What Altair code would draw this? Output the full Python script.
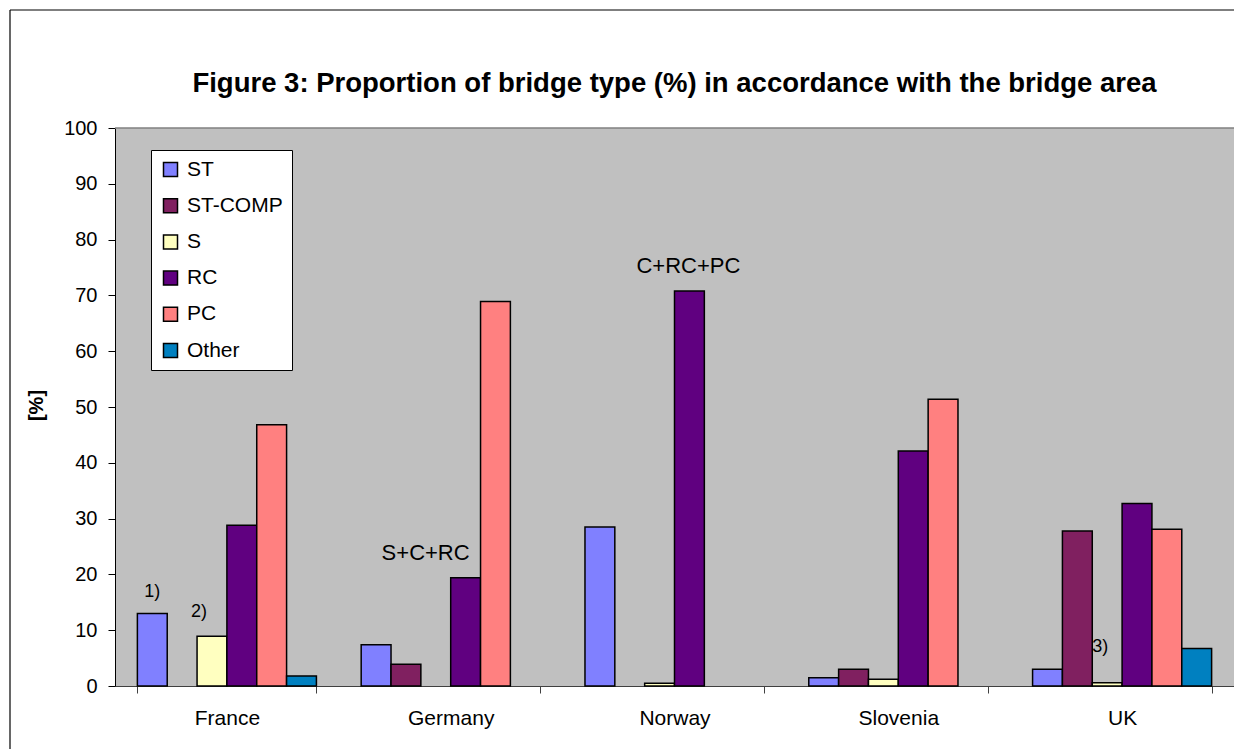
import altair as alt
import pandas as pd

countries = ["France", "Germany", "Norway", "Slovenia", "UK"]
types = ["ST", "ST-COMP", "S", "RC", "PC", "Other"]
colors = ["#8080FF", "#802060", "#FFFFC0", "#600080", "#FF8080", "#0080C0"]

ST = [13.0, 7.4, 28.5, 1.5, 3.0]
ST_COMP = [0.0, 3.9, 0.0, 3.0, 27.8]
S = [8.9, 0.0, 0.5, 1.2, 0.6]
RC = [28.8, 19.4, 70.8, 42.1, 32.7]
PC = [46.8, 68.9, 0.0, 51.4, 28.1]
OTHER = [1.8, 0.0, 0.0, 0.0, 6.7]

# annotations: text, country, anchor bar type, y position (%), horizontal shift (px)
ann_text = ["1)", "2)", "S+C+RC", "C+RC+PC", "3)"]
ann_country = ["France", "France", "Germany", "Norway", "UK"]
ann_type = ["ST", "S", "RC", "RC", "S"]
ann_y = [16.9, 13.3, 23.8, 75.3, 7.0]
ann_dx = [0, -13, -40, -1, -7]
ann_size = [18, 18, 22, 22, 18]

FONT = "Liberation Sans"

series = {"ST": ST, "ST-COMP": ST_COMP, "S": S, "RC": RC, "PC": PC, "Other": OTHER}
rows = []
for t in types:
    for c, v in zip(countries, series[t]):
        if v > 0:
            rows.append({"country": c, "type": t, "value": v})
df = pd.DataFrame(rows)

xscale = alt.Scale(domain=countries, paddingInner=0.2, paddingOuter=0.1)
xoff = alt.Scale(domain=types, paddingInner=0, paddingOuter=0)

bars = alt.Chart(df).mark_bar(stroke="black", strokeWidth=1.5).encode(
    x=alt.X("country:N", scale=xscale, sort=countries,
            axis=alt.Axis(title=None, labelAngle=0, tickBand="extent", tickSize=7,
                          labelPadding=14, labelFontSize=21, labelFont=FONT,
                          labelColor="black", domainColor="#404040", tickColor="#404040",
                          labelBaseline="top")),
    xOffset=alt.XOffset("type:N", scale=xoff, sort=types),
    y=alt.Y("value:Q", scale=alt.Scale(domain=[0, 100], nice=False),
            axis=alt.Axis(title="[%]", values=list(range(0, 101, 10)), grid=False,
                          tickSize=7, labelPadding=11, labelFontSize=20, labelFont=FONT,
                          labelColor="black", domainColor="black", tickColor="black",
                          titleFont=FONT, titleFontSize=20, titleFontWeight="bold",
                          titleColor="black", titleAngle=-90, titleX=-79, titleY=277,
                          titleAlign="center", titleBaseline="middle")),
    color=alt.Color("type:N", scale=alt.Scale(domain=types, range=colors), sort=types,
                    legend=alt.Legend(orient="none", legendX=36, legendY=22, title=None,
                                      fillColor="white", strokeColor="black", padding=9,
                                      symbolType="square", symbolSize=196,
                                      symbolStrokeColor="black", symbolStrokeWidth=1.5,
                                      symbolOpacity=1, labelFontSize=21, labelFont=FONT,
                                      labelColor="black", rowPadding=14.2, labelOffset=6)),
)

layers = [bars]
for t, c, bt, yv, dx, fs in zip(ann_text, ann_country, ann_type, ann_y, ann_dx, ann_size):
    adf = pd.DataFrame([{"country": c, "type": bt, "y": yv, "label": t}])
    layers.append(
        alt.Chart(adf).mark_text(font=FONT, fontSize=fs, color="black", dx=dx,
                                 baseline="middle", align="center").encode(
            x=alt.X("country:N", scale=xscale, sort=countries),
            xOffset=alt.XOffset("type:N", scale=xoff, sort=types),
            y=alt.Y("y:Q"),
            text="label:N",
        )
    )

one = pd.DataFrame({"a": [0]})
top_border = alt.Chart(one).mark_rule(color="#808080", strokeWidth=1.5).encode(
    x=alt.value(0), x2=alt.value(1119), y=alt.value(0))
frame_top = alt.Chart(one).mark_rule(color="black", strokeWidth=1.2).encode(
    x=alt.value(-105), x2=alt.value(1119), y=alt.value(-118))
frame_left = alt.Chart(one).mark_rule(color="black", strokeWidth=1.2).encode(
    x=alt.value(-105), y=alt.value(-118), y2=alt.value(621))
layers += [top_border, frame_top, frame_left]

chart = alt.layer(*layers).properties(
    width=1119, height=558,
    title=alt.Title("Figure 3: Proportion of bridge type (%) in accordance with the bridge area",
                    font=FONT, fontSize=27.5, fontWeight="bold", color="black",
                    anchor="middle", frame="group", offset=-88),
    autosize=alt.AutoSizeParams(type="none"),
    padding={"left": 115, "top": 128, "right": 0, "bottom": 63},
    background="white",
).configure_view(fill="#C0C0C0", stroke="transparent", strokeWidth=0)

chart.save("out.html", embed_options={"renderer": "svg", "actions": False})
